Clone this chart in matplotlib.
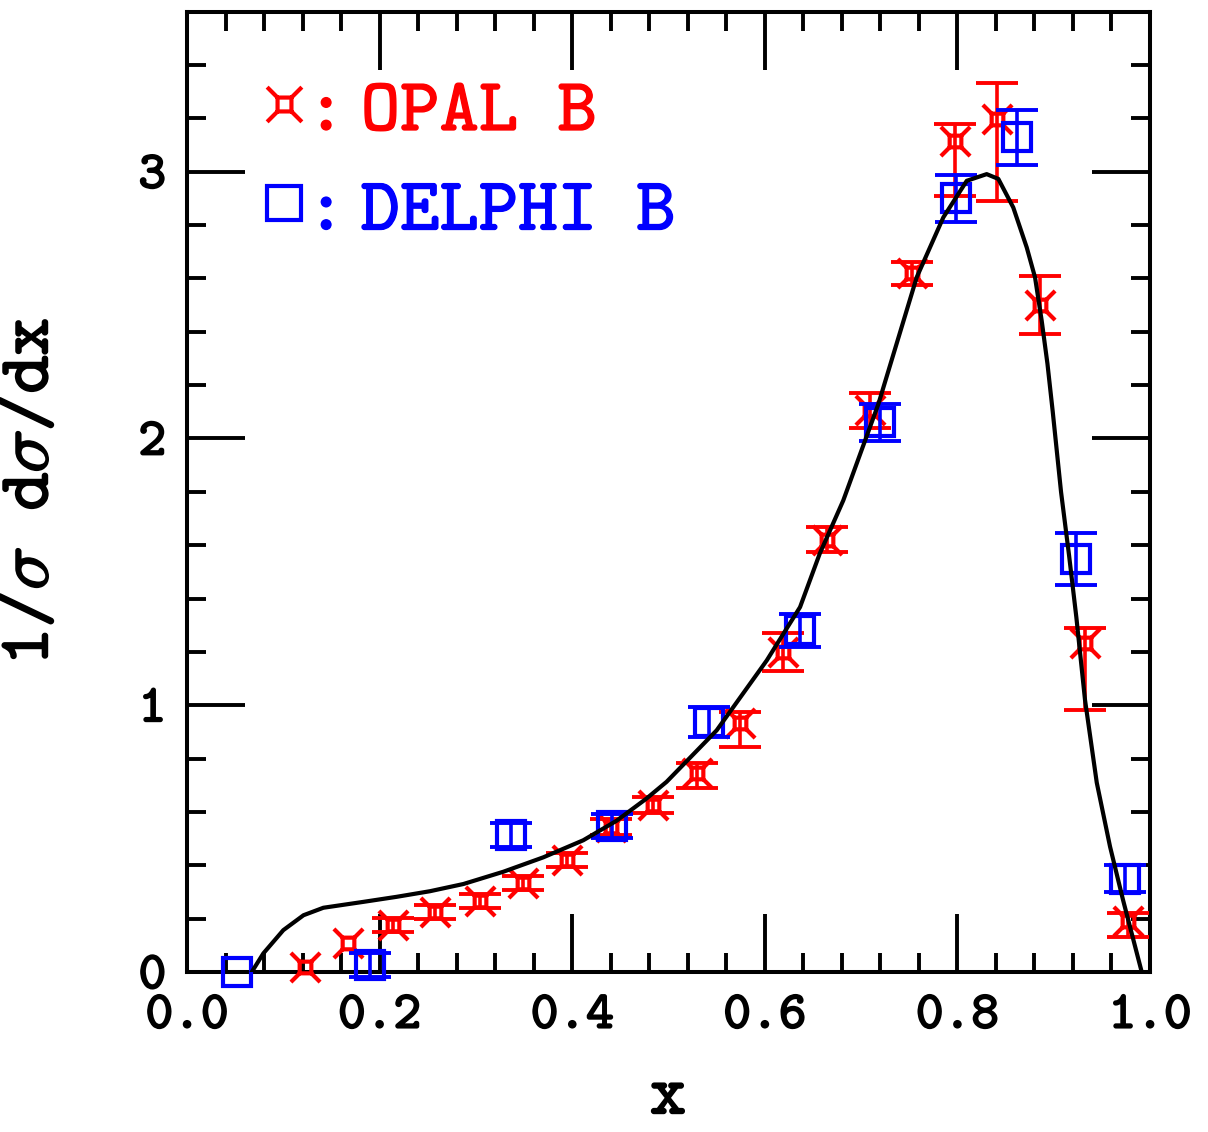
import numpy as np
import matplotlib
matplotlib.use("Agg")
import matplotlib.pyplot as plt
import matplotlib.patheffects as pe
from matplotlib.path import Path
from matplotlib.lines import Line2D
from matplotlib.ticker import MultipleLocator

plt.rcParams['font.family'] = ['cmtt10', 'DejaVu Serif']
plt.rcParams['mathtext.fontset'] = 'cm'
plt.rcParams['axes.unicode_minus'] = False

# OPAL B measurement
opal_x = [0.1225, 0.167, 0.214, 0.2575, 0.304, 0.349, 0.395, 0.44, 0.484, 0.53,
          0.574, 0.619, 0.665, 0.709, 0.753, 0.797, 0.841, 0.886, 0.9325, 0.977]
opal_y = [0.02, 0.109, 0.176, 0.224, 0.265, 0.333, 0.42, 0.544, 0.625, 0.745,
          0.933, 1.20, 1.62, 2.105, 2.62, 3.116, 3.197, 2.50, 1.232, 0.19]
opal_lo = [0.0, 0.0, 0.026, 0.026, 0.026, 0.026, 0.028, 0.03, 0.03, 0.056,
           0.089, 0.07, 0.047, 0.067, 0.043, 0.206, 0.306, 0.11, 0.251, 0.06]
opal_hi = [0.0, 0.0, 0.026, 0.026, 0.026, 0.026, 0.028, 0.03, 0.03, 0.038,
           0.042, 0.07, 0.047, 0.067, 0.043, 0.062, 0.137, 0.11, 0.056, 0.03]

# DELPHI B measurement
delphi_x = [0.052, 0.19, 0.336, 0.441, 0.542, 0.637, 0.72, 0.799, 0.862, 0.923, 0.974]
delphi_y = [0.0, 0.026, 0.513, 0.549, 0.936, 1.281, 2.06, 2.90, 3.13, 1.548, 0.35]
delphi_err = [0.0, 0.045, 0.044, 0.045, 0.056, 0.0625, 0.07, 0.088, 0.103, 0.096, 0.05]

# theory curve
curve_x = [0.0672, 0.0793, 0.100, 0.121, 0.1416, 0.183, 0.2177, 0.2523, 0.287, 0.3285,
           0.370, 0.4115, 0.446, 0.477, 0.498, 0.550, 0.602, 0.6366, 0.657, 0.6815,
           0.718, 0.7577, 0.7854, 0.8097, 0.8304, 0.8425, 0.858, 0.872, 0.8806, 0.8875,
           0.8935, 0.899, 0.9076, 0.916, 0.9235, 0.9325, 0.9447, 0.9585, 0.972, 0.9914]
curve_y = [0.0, 0.07, 0.157, 0.213, 0.241, 0.263, 0.282, 0.303, 0.33, 0.376,
           0.43, 0.494, 0.567, 0.65, 0.713, 0.906, 1.168, 1.368, 1.568, 1.768,
           2.13, 2.604, 2.829, 2.966, 2.991, 2.973, 2.866, 2.716, 2.604, 2.442,
           2.28, 2.10, 1.80, 1.56, 1.33, 1.02, 0.71, 0.47, 0.27, 0.0]

x_ticks = [0.0, 0.2, 0.4, 0.6, 0.8, 1.0]
x_ticklabels = ['0.0', '0.2', '0.4', '0.6', '0.8', '1.0']
y_ticks = [0, 1, 2, 3]
y_ticklabels = ['0', '1', '2', '3']
legend_labels = [':\u2009OPAL B', ':\u2009DELPHI B']


def opal_marker(s=0.4):
    # small square with a spike leaving each corner
    verts = [(-s, -s), (s, -s), (s, s), (-s, s), (-s, -s),
             (s, s), (1, 1), (-s, s), (-1, 1),
             (-s, -s), (-1, -1), (s, -s), (1, -1)]
    codes = ([Path.MOVETO] + [Path.LINETO] * 3 + [Path.CLOSEPOLY]
             + [Path.MOVETO, Path.LINETO] * 4)
    return Path(verts, codes)


def bold(color, lw=1.0):
    return [pe.withStroke(linewidth=lw, foreground=color)]


OPAL = opal_marker()
mew = 3.0

fig = plt.figure(figsize=(12.08, 11.32), dpi=100)
ax = fig.add_axes([0.1548, 0.1413, 0.7972, 0.8484])

ox, oy = np.array(opal_x), np.array(opal_y)
olo, ohi = np.array(opal_lo), np.array(opal_hi)
has = (olo + ohi) > 0
ax.errorbar(ox[has], oy[has], yerr=[olo[has], ohi[has]], fmt='none', ecolor='red',
            elinewidth=2.6, capsize=15, capthick=2.8, clip_on=False, zorder=3)
ax.plot(ox, oy, ls='none', marker=OPAL, ms=21, mfc='none', mec='red', mew=mew,
        clip_on=False, zorder=3)

dx, dy, de = np.array(delphi_x), np.array(delphi_y), np.array(delphi_err)
has = de > 0
ax.errorbar(dx[has], dy[has], yerr=de[has], fmt='none', ecolor='blue',
            elinewidth=2.6, capsize=15, capthick=2.8, clip_on=False, zorder=3)
ax.plot(dx, dy, ls='none', marker='s', ms=20, mfc='none', mec='blue', mew=mew,
        clip_on=False, zorder=3)

ax.plot(curve_x, curve_y, color='black', lw=3.0, zorder=4)

ax.set_xlim(0, 1)
ax.set_ylim(0, 3.6)
ax.set_xticks(x_ticks)
ax.set_xticklabels(x_ticklabels)
ax.set_yticks(y_ticks)
ax.set_yticklabels(y_ticklabels)
ax.xaxis.set_minor_locator(MultipleLocator(0.04))
ax.yaxis.set_minor_locator(MultipleLocator(0.2))
ax.tick_params(which='both', direction='in', top=True, right=True, width=2.8, color='black')
ax.tick_params(which='major', length=42)
ax.tick_params(which='minor', length=14)
ax.tick_params(axis='x', which='major', labelsize=38, pad=17)
ax.tick_params(axis='y', which='major', labelsize=38, pad=15)
for spine in ax.spines.values():
    spine.set_linewidth(2.9)
for lab in ax.get_xticklabels() + ax.get_yticklabels():
    lab.set_path_effects(bold('black', 1.3))

ax.set_xlabel('x', fontsize=50, va='center')
ax.xaxis.set_label_coords(0.4995, -0.133)
ax.set_ylabel(r'1/$\sigma$ d$\sigma$/dx', fontsize=52)
ax.yaxis.set_label_coords(-0.128, 0.5)
ax.xaxis.label.set_path_effects(bold('black', 1.3))
ax.yaxis.label.set_path_effects(bold('black', 1.3))

handles = [Line2D([], [], ls='none', marker=OPAL, ms=25, mfc='none', mec='red', mew=mew),
           Line2D([], [], ls='none', marker='s', ms=25, mfc='none', mec='blue', mew=mew)]
leg = ax.legend(handles, legend_labels, loc='upper left',
                bbox_to_anchor=(0.0773, 0.9315), frameon=False, fontsize=54,
                handlelength=0.6, handletextpad=0.0, labelspacing=0.4,
                borderpad=0, borderaxespad=0, labelcolor=['red', 'blue'])
for t, c in zip(leg.get_texts(), ['red', 'blue']):
    t.set_path_effects(bold(c, 1.0))

fig.savefig('out.png', dpi=100)
